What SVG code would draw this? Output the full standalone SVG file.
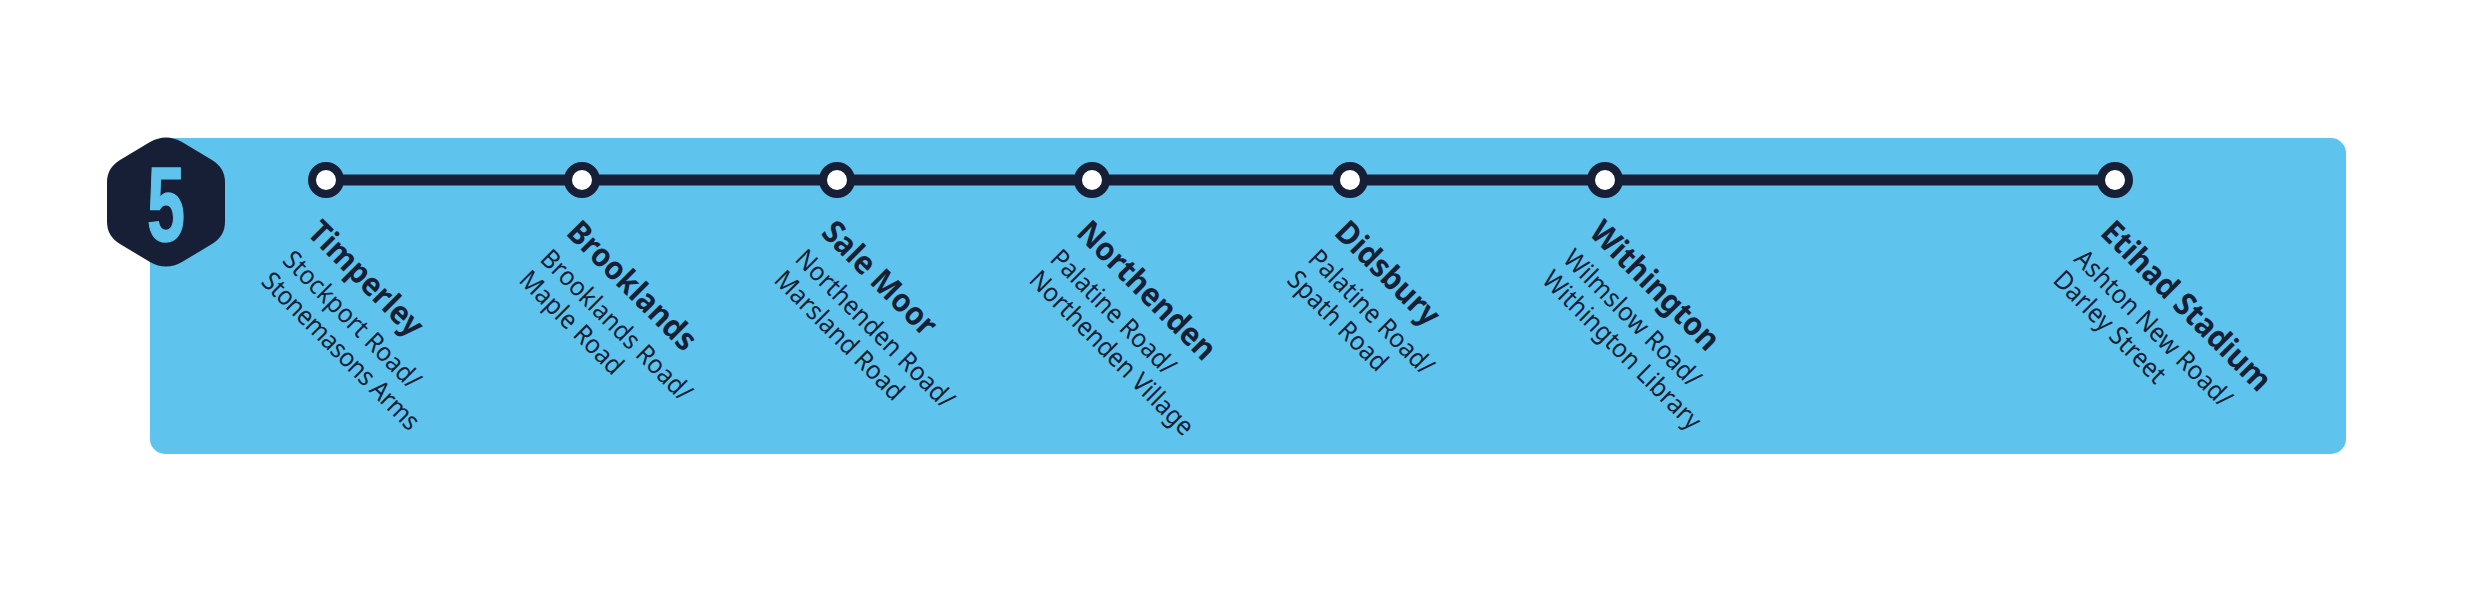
<svg xmlns="http://www.w3.org/2000/svg" width="2480" height="591" viewBox="0 0 2480 591">
<style>
.t{font-family:"Noto Sans","Open Sans",sans-serif;font-weight:700;font-size:32px;fill:#161f36}
.s{font-family:"Noto Sans","Open Sans",sans-serif;font-size:26px;fill:#161f36}
.st{fill:#fff;stroke:#161f36;stroke-width:8}
</style>
<rect width="2480" height="591" fill="#fff"/>
<rect id="band" x="150" y="138" width="2196" height="316" rx="15" fill="#5ec4ee"/>
<g id="badge">
<path d="M150 142Q166 133 182 142L212 160Q225 168 225 182V222Q225 236 212 244L182 262Q166 271 150 262L120 244Q107 236 107 222V182Q107 168 120 160Z" fill="#161f36"/>
<text transform="translate(166 241) scale(.95 1.48)" text-anchor="middle" font-family="Liberation Sans Narrow,Liberation Sans,sans-serif" font-weight="700" font-size="72" fill="#5ec4ee" stroke="#5ec4ee" stroke-width="1">5</text>
</g>
<g id="connectors"><path d="M326 180H2115" stroke="#161f36" stroke-width="11" fill="none"/></g>
<g id="timperley"><circle class="st" cx="326" cy="180" r="14"/><g transform="translate(306 234) rotate(45) scale(.93 1)"><text class="t">Timperley</text><text class="s" y="37" x="2">Stockport Road/</text><text class="s" y="67" x="2" textLength="227">Stonemasons Arms</text></g></g>
<g id="brooklands"><circle class="st" cx="582" cy="180" r="14"/><g transform="translate(565 234) rotate(45) scale(.93 1)"><text class="t">Brooklands</text><text class="s" y="37">Brooklands Road/</text><text class="s" y="67">Maple Road</text></g></g>
<g id="salemoor"><circle class="st" cx="837" cy="180" r="14"/><g transform="translate(820 234) rotate(45) scale(.93 1)"><text class="t">Sale Moor</text><text class="s" y="37">Northenden Road/</text><text class="s" y="67">Marsland Road</text></g></g>
<g id="northenden"><circle class="st" cx="1092" cy="180" r="14"/><g transform="translate(1075 234) rotate(45) scale(.93 1)"><text class="t">Northenden</text><text class="s" y="37">Palatine Road/</text><text class="s" y="67">Northenden Village</text></g></g>
<g id="didsbury"><circle class="st" cx="1350" cy="180" r="14"/><g transform="translate(1333 234) rotate(45) scale(.93 1)"><text class="t">Didsbury</text><text class="s" y="37">Palatine Road/</text><text class="s" y="67">Spath Road</text></g></g>
<g id="withington"><circle class="st" cx="1605" cy="180" r="14"/><g transform="translate(1588 234) rotate(45) scale(.93 1)"><text class="t">Withington</text><text class="s" y="37">Wilmslow Road/</text><text class="s" y="67">Withington Library</text></g></g>
<g id="etihad"><circle class="st" cx="2115" cy="180" r="14"/><g transform="translate(2099 234) rotate(45) scale(.93 1)"><text class="t">Etihad Stadium</text><text class="s" y="37">Ashton New Road/</text><text class="s" y="67">Darley Street</text></g></g>
</svg>
